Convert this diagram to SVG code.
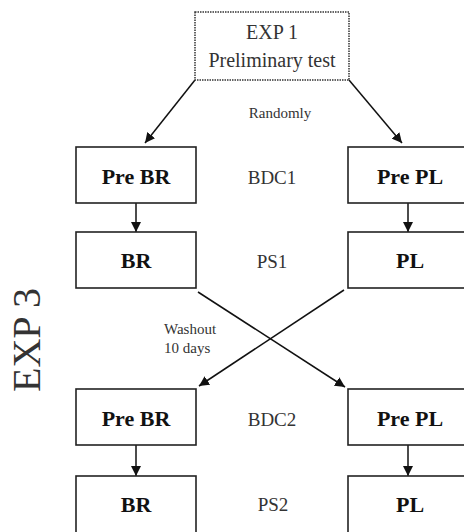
<svg xmlns="http://www.w3.org/2000/svg" width="464" height="532" viewBox="0 0 464 532">
  <defs>
    <marker id="arrow" viewBox="0 0 10 10" refX="10" refY="5" markerWidth="10" markerHeight="10" markerUnits="userSpaceOnUse" orient="auto">
      <path d="M0,0 L10,5 L0,10 Z" fill="#111"/>
    </marker>
    <style>
      .box { fill: #fff; stroke: #222; stroke-width: 1.6; }
      .dotted { fill: #fff; stroke: #333; stroke-width: 1.5; stroke-dasharray: 1.5 1; }
      .node { font-family: "Liberation Serif", serif; font-weight: bold; font-size: 22px; fill: #111; text-anchor: middle; }
      .label { font-family: "Liberation Serif", serif; font-size: 19px; fill: #333; text-anchor: middle; }
      .small { font-family: "Liberation Serif", serif; font-size: 15px; fill: #333; }
      .edge { stroke: #111; stroke-width: 1.5; fill: none; marker-end: url(#arrow); }
    </style>
  </defs>
  <rect width="464" height="532" fill="#fff"/>

  <!-- side title -->
  <text class="label" style="font-size:40px" transform="translate(40,340) rotate(-90)">EXP 3</text>

  <!-- connectors -->
  <g id="connectors">
    <line class="edge" x1="195" y1="80" x2="145" y2="143"/>
    <line class="edge" x1="349" y1="80" x2="402" y2="143"/>
    <line class="edge" x1="136" y1="203" x2="136" y2="232"/>
    <line class="edge" x1="408" y1="203" x2="408" y2="232"/>
    <line class="edge" x1="198" y1="292" x2="345" y2="387"/>
    <line class="edge" x1="344" y1="290" x2="199" y2="386"/>
    <line class="edge" x1="136" y1="445" x2="136" y2="476"/>
    <line class="edge" x1="408" y1="445" x2="408" y2="476"/>
  </g>

  <!-- free labels -->
  <text class="small" x="280" y="118" text-anchor="middle">Randomly</text>
  <text class="label" x="272" y="184">BDC1</text>
  <text class="label" x="272" y="268">PS1</text>
  <text class="small" x="164" y="334">Washout</text>
  <text class="small" x="164" y="353">10 days</text>
  <text class="label" x="272" y="426">BDC2</text>
  <text class="label" x="273" y="511">PS2</text>

  <g id="exp1">
    <rect class="dotted" x="195" y="12" width="154" height="68"/>
    <text class="label" style="font-size:20px" x="272" y="39">EXP 1</text>
    <text class="label" style="font-size:20px" x="272" y="67">Preliminary test</text>
  </g>

  <g id="pre-br-1">
    <rect class="box" x="76" y="147" width="120" height="56"/>
    <text class="node" x="136" y="184">Pre BR</text>
  </g>
  <g id="br-1">
    <rect class="box" x="76" y="232" width="120" height="56"/>
    <text class="node" x="136" y="268">BR</text>
  </g>
  <g id="pre-pl-1">
    <rect class="box" x="348" y="147" width="120" height="56"/>
    <text class="node" x="410" y="184">Pre PL</text>
  </g>
  <g id="pl-1">
    <rect class="box" x="348" y="232" width="120" height="56"/>
    <text class="node" x="410" y="268">PL</text>
  </g>

  <g id="pre-br-2">
    <rect class="box" x="76" y="389" width="120" height="56"/>
    <text class="node" x="136" y="426">Pre BR</text>
  </g>
  <g id="br-2">
    <rect class="box" x="76" y="476" width="120" height="70"/>
    <text class="node" x="136" y="512">BR</text>
  </g>
  <g id="pre-pl-2">
    <rect class="box" x="348" y="389" width="120" height="56"/>
    <text class="node" x="410" y="426">Pre PL</text>
  </g>
  <g id="pl-2">
    <rect class="box" x="348" y="476" width="120" height="70"/>
    <text class="node" x="410" y="512">PL</text>
  </g>
</svg>
